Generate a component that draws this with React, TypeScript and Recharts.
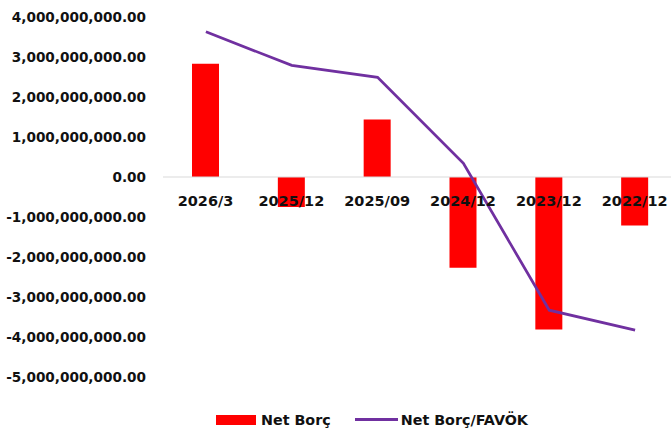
import { Bar, ComposedChart, LabelList, Legend, Line, ReferenceLine, XAxis, YAxis } from "recharts";

const periods = ["2026/3", "2025/12", "2025/09", "2024/12", "2023/12", "2022/12"];
const netDebt = [2.83e9, -0.75e9, 1.44e9, -2.27e9, -3.81e9, -1.21e9];
const debtToEbitda = [3.63, 2.79, 2.49, 0.34, -3.33, -3.83];
const yTicks = [4e9, 3e9, 2e9, 1e9, 0, -1e9, -2e9, -3e9, -4e9, -5e9];

const data = periods.map((name, i) => ({
  name,
  netDebt: netDebt[i],
  ratio: debtToEbitda[i],
}));

const FONT = "'DejaVu Sans', Verdana, sans-serif";
const TEXT = "#111";

const fmt = (v: number) =>
  v.toLocaleString("en-US", { minimumFractionDigits: 2, maximumFractionDigits: 2 });

// category names sit just under the zero line, like the Excel original
function CategoryLabel(props: any) {
  const vb = props.viewBox ?? props;
  const { x, y, width, height } = vb;
  const v = netDebt[props.index] ?? 0;
  const zeroY = v >= 0 ? Math.max(y, y + height) : Math.min(y, y + height);
  return (
    <text
      x={x + width / 2}
      y={zeroY + 24}
      textAnchor="middle"
      dominantBaseline="central"
      fontFamily={FONT}
      fontWeight="bold"
      fontSize={14.5}
      fill={TEXT}
    >
      {periods[props.index]}
    </text>
  );
}

function LegendContent({ payload }: any) {
  return (
    <div
      style={{
        height: 52,
        paddingTop: 33,
        paddingLeft: 216,
        boxSizing: "border-box",
        display: "flex",
        alignItems: "center",
        fontFamily: FONT,
        fontWeight: "bold",
        fontSize: 14.3,
        lineHeight: "16px",
        color: TEXT,
      }}
    >
      {(payload || []).map((p: any) => (
        <div key={p.value} style={{ display: "flex", alignItems: "center", marginRight: 24 }}>
          {p.type === "line" ? (
            <span style={{ width: 43, height: 3, background: p.color, marginRight: 3 }} />
          ) : (
            <span style={{ width: 40, height: 10, background: p.color, marginRight: 5 }} />
          )}
          <span>{p.value}</span>
        </div>
      ))}
    </div>
  );
}

export default function App() {
  return (
    <div style={{ position: "absolute", left: 0, top: 0, width: 671, height: 429, overflow: "hidden", background: "#fff" }}>
      <ComposedChart
        width={678}
        height={429}
        data={data}
        margin={{ top: 17, right: 0, bottom: 0, left: 0 }}
      >
        <XAxis dataKey="name" hide />
        <YAxis
          yAxisId="left"
          width={163}
          domain={[-5e9, 4e9]}
          ticks={yTicks}
          interval={0}
          tickFormatter={fmt}
          axisLine={false}
          tickLine={false}
          tickMargin={11}
          tick={{ fontFamily: FONT, fontWeight: "bold", fontSize: 13.6, fill: TEXT }}
        />
        <YAxis yAxisId="right" orientation="right" hide domain={[-5, 4]} />
        <ReferenceLine yAxisId="left" y={0} stroke="#d9d9d9" strokeWidth={1} />
        <Bar
          yAxisId="left"
          dataKey="netDebt"
          name="Net Borç"
          fill="#ff0000"
          barSize={27}
          legendType="rect"
          isAnimationActive={false}
        >
          <LabelList dataKey="name" content={<CategoryLabel />} />
        </Bar>
        <Line
          yAxisId="right"
          dataKey="ratio"
          name="Net Borç/FAVÖK"
          type="linear"
          stroke="#7030a0"
          strokeWidth={2.75}
          dot={false}
          legendType="line"
          isAnimationActive={false}
        />
        <Legend verticalAlign="bottom" content={<LegendContent />} />
      </ComposedChart>
    </div>
  );
}
